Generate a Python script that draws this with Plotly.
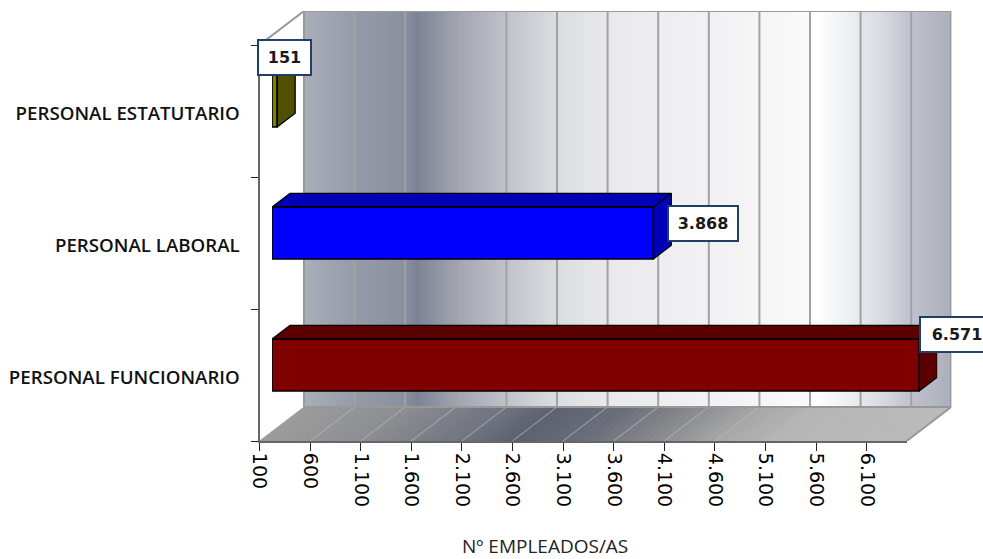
import numpy as np
import plotly.graph_objects as go
from plotly.colors import sample_colorscale

CATEGORIES = ["PERSONAL FUNCIONARIO", "PERSONAL LABORAL", "PERSONAL ESTATUTARIO"]
EMPLEADOS = [6571, 3868, 151]
TICK_VALUES = [100, 600, 1100, 1600, 2100, 2600, 3100, 3600, 4100, 4600, 5100, 5600, 6100]
X_MIN, X_MAX = 100, 6495
AXIS_TITLE = "Nº EMPLEADOS/AS"

FRONT = ["#800000", "#0000ff", "#808000"]
DARK = ["#5a0000", "#0000b8", "#505000"]

WALL_STOPS = [[0, "#abafbb"], [0.08, "#969aa8"], [0.155, "#8b90a0"], [0.175, "#7d8396"], [0.235, "#a0a4b0"], [0.31, "#bfc1c9"],
              [0.39, "#dcdde0"], [0.47, "#e9e9eb"], [0.62, "#f1f1f3"], [0.78, "#fafafa"], [0.79, "#ffffff"],
              [0.84, "#eff0f3"], [0.90, "#d5d7de"], [0.93, "#c2c5cf"], [1, "#abafbb"]]
FLOOR_STOPS = [[0, "#9c9c9c"], [0.16, "#8b8d91"], [0.31, "#70747f"], [0.39, "#5c6070"], [0.5, "#6a6e7a"],
               [0.6, "#85878b"], [0.7, "#a5a5a5"], [0.8, "#b6b6b6"], [1, "#bababa"]]

W, H = 983, 559
def dx(a, b): return [a / W, b / W]
def dy(top, bottom): return [1 - bottom / H, 1 - top / H]

L, R, BOT, TOP = 259.5, 906.7, 441.0, 45.0
DEPTH_X_PX, DEPTH_Y_PX = 44.5, 34.0
BAR_OFF_X, BAR_OFF_Y = 12.5, 10.0
BAR_DEPTH_X, BAR_DEPTH_Y = 18.0, 13.7
px_per_val = (R - L) / (X_MAX - X_MIN)
px_per_cat = (BOT - TOP) / 3
DX = DEPTH_X_PX / px_per_val
DY = DEPTH_Y_PX / px_per_cat
BDX = BAR_DEPTH_X / px_per_val
BDY = BAR_DEPTH_Y / px_per_cat

fig = go.Figure()

# ---- scene: walls and floor (subplot xy)
scene = dict(xaxis="x", yaxis="y", hoverinfo="skip", showlegend=False)
fig.add_trace(go.Scatter(x=[X_MIN + DX, X_MAX + DX, X_MAX + DX, X_MIN + DX, X_MIN + DX], y=[DY, DY, 3 + DY, 3 + DY, DY],
                         mode="lines", fill="toself", line=dict(color="#989898", width=2),
                         fillgradient=dict(type="horizontal", colorscale=WALL_STOPS), **scene))
N = 90
edges = np.linspace(X_MIN, X_MAX, N + 1)
for i in range(N):
    a, b = edges[i], edges[i + 1]
    c = sample_colorscale(FLOOR_STOPS, (i + 0.5) / N)[0]
    fig.add_trace(go.Scatter(x=[a, b, b + DX, a + DX, a], y=[0, 0, DY, DY, 0], mode="lines", fill="toself",
                             fillcolor=c, line=dict(color=c, width=0.8), **scene))
gx, gy = [], []
for t in TICK_VALUES[1:]:
    gx += [t + DX, t + DX, None]
    gy += [DY, 3 + DY, None]
fig.add_trace(go.Scatter(x=gx, y=gy, mode="lines", line=dict(color="#a2a2a2", width=2), **scene))
fx, fy = [], []
for t in TICK_VALUES[1:]:
    fx += [t, t + DX, None]
    fy += [0, DY, None]
fig.add_trace(go.Scatter(x=fx, y=fy, mode="lines", line=dict(color="rgba(185,185,185,0.55)", width=1.2), **scene))
fig.add_trace(go.Scatter(x=[X_MIN + DX, X_MAX + DX, X_MAX], y=[DY, DY, 0], mode="lines",
                         line=dict(color="#989898", width=2), **scene))
fig.add_trace(go.Scatter(x=[X_MIN, X_MIN + DX, X_MAX + DX, X_MAX + DX], y=[3, 3 + DY, 3 + DY, DY], mode="lines",
                         line=dict(color="#989898", width=2), **scene))

# ---- visible axes (subplot x2y2)
fig.add_trace(go.Scatter(x=EMPLEADOS, y=CATEGORIES, mode="none", xaxis="x2", yaxis="y2",
                         showlegend=False, hoverinfo="skip"))

# ---- bars: front faces clipped by the axis range (x3), depth faces on a wider twin (x4)
ypos = np.arange(len(CATEGORIES)) + 0.5
BAR_W = 52 / px_per_cat
fig.add_trace(go.Bar(x=EMPLEADOS, y=ypos, orientation="h", width=BAR_W, marker=dict(color=FRONT, line=dict(width=0)),
                     xaxis="x3", yaxis="y3", showlegend=False, name="Nº empleados/as"))
for v, y0, dark in zip(EMPLEADOS, ypos, DARK):
    v = min(v, X_MAX)
    lo, hi = y0 - BAR_W / 2, y0 + BAR_W / 2
    common = dict(xaxis="x4", yaxis="y3", mode="lines", fill="toself", fillcolor=dark, cliponaxis=False,
                  line=dict(color="#000000", width=1.3), showlegend=False, hoverinfo="skip")
    fig.add_trace(go.Scatter(x=[X_MIN, v, v + BDX, X_MIN + BDX, X_MIN], y=[hi, hi, hi + BDY, hi + BDY, hi], **common))
    fig.add_trace(go.Scatter(x=[v, v + BDX, v + BDX, v, v], y=[lo, lo + BDY, hi + BDY, hi, lo], **common))
    fig.add_trace(go.Scatter(x=[X_MIN, v, v, X_MIN, X_MIN], y=[lo, lo, hi, hi, lo], xaxis="x4", yaxis="y3", mode="lines",
                             cliponaxis=False, line=dict(color="#000000", width=1.6), showlegend=False, hoverinfo="skip"))

# ---- value labels
LABEL_BOX = [(0, 70), (14, 66), (-20, 49)]  # x shift from bar end, inner width
LABEL_Y_PX = [334, 224, 57]
annotations = []
for v, y_px, (xs, wd) in zip(EMPLEADOS, LABEL_Y_PX, LABEL_BOX):
    annotations.append(dict(x=min(v, X_MAX), y=1 - y_px / H, xref="x3", yref="paper", text=f"{v:,}".replace(",", "."),
                            showarrow=False, xanchor="left", yanchor="middle", xshift=xs,
                            width=wd, height=31, align="center",
                            bgcolor="#ffffff", bordercolor="#1f3f66", borderwidth=2, borderpad=1,
                            font=dict(family="DejaVu Sans", size=16, color="#1a1a1a", weight=600)))
annotations.append(dict(x=545 / W, y=1 - 546 / H, xref="paper", yref="paper", text=AXIS_TITLE, showarrow=False,
                        xanchor="center", yanchor="middle",
                        font=dict(family="Open Sans", size=19, color="#222222")))

hidden = dict(visible=False, fixedrange=True)
fig.update_layout(
    width=W, height=H, margin=dict(l=0, r=0, t=0, b=0, autoexpand=False), paper_bgcolor="#ffffff", plot_bgcolor="rgba(0,0,0,0)",
    separators=",.", showlegend=False, bargap=0, annotations=annotations,
    xaxis=dict(domain=dx(L, R + DEPTH_X_PX), range=[X_MIN, X_MAX + DX], anchor="y", **hidden),
    yaxis=dict(domain=dy(TOP - DEPTH_Y_PX, BOT), range=[0, 3 + DY], anchor="x", **hidden),
    xaxis2=dict(domain=dx(L, R), range=[X_MIN, X_MAX], anchor="y2", tickmode="array", tickvals=TICK_VALUES,
                tickformat=",d", tickangle=90, ticks="outside", ticklen=8, tickcolor="#222222", tickwidth=1.2,
                showgrid=False, zeroline=False, showline=True, linecolor="#666666", linewidth=2, automargin=False,
                ticklabelstandoff=-2, tickfont=dict(family="DejaVu Sans", size=19, color="#000000")),
    yaxis2=dict(domain=dy(TOP, BOT), type="category", categoryorder="array", categoryarray=CATEGORIES,
                tickmode="array", tickvals=CATEGORIES, range=[-0.5, 2.5], anchor="x2", tickson="boundaries",
                ticks="outside", ticklen=7, tickcolor="#222222", tickwidth=1.2, showgrid=False, zeroline=False,
                showline=True, linecolor="#666666", linewidth=2, ticklabelstandoff=14, ticklabelshift=2, automargin=False,
                tickfont=dict(family="Open Sans", size=18.7, color="#111111", weight=600)),
    xaxis3=dict(domain=dx(L + BAR_OFF_X, R + BAR_OFF_X), range=[X_MIN, X_MAX], anchor="y3", **hidden),
    yaxis3=dict(domain=dy(TOP - BAR_OFF_Y, BOT - BAR_OFF_Y), range=[0, 3], anchor="x3", **hidden),
    xaxis4=dict(domain=dx(L + BAR_OFF_X, R + BAR_OFF_X + BAR_DEPTH_X), range=[X_MIN, X_MAX + BDX], anchor="y3", **hidden),
)
fig.write_html("out.html", config=dict(displayModeBar=False),
               post_script="document.body.style.margin='0';document.documentElement.style.overflow='hidden';")
